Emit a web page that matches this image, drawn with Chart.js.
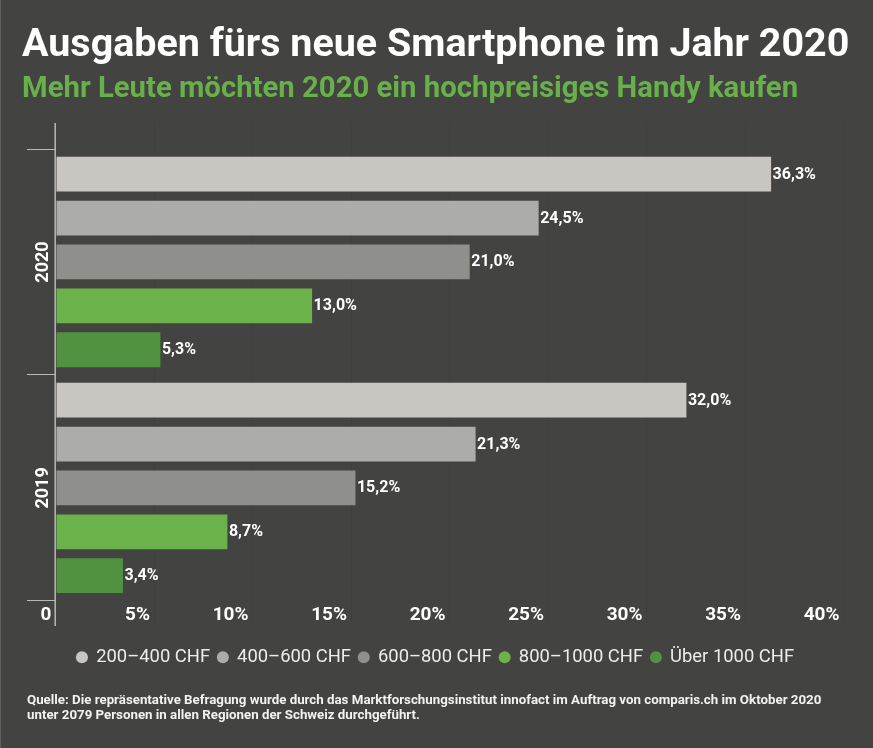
<!DOCTYPE html>
<html lang="de"><head><meta charset="utf-8">
<style>
html,body{margin:0;padding:0;background:#434342;width:873px;height:748px;overflow:hidden;font-family:Roboto,sans-serif}
#wrap{position:relative;width:873px;height:748px;box-shadow:inset 1px 0 0 #5e5e5d}
canvas{position:absolute;left:0;top:0}
.t{position:absolute;white-space:nowrap}
#title{left:22px;top:17px;font-size:39.45px;font-weight:700;color:#fff;line-height:52px}
#sub{left:22px;top:68px;font-size:29.3px;font-weight:700;color:#67b04a;line-height:38px}
#foot{left:27px;top:692px;font-size:13.3px;font-weight:700;color:#f2f2f2;line-height:15px}
</style></head><body>
<div id="wrap">
<canvas id="c" width="873" height="748"></canvas>
<div class="t" id="title">Ausgaben fürs neue Smartphone im Jahr 2020</div>
<div class="t" id="sub">Mehr Leute möchten 2020 ein hochpreisiges Handy kaufen</div>
<div class="t" id="foot">Quelle: Die repräsentative Befragung wurde durch das Marktforschungsinstitut innofact im Auftrag von comparis.ch im Oktober 2020<br>unter 2079 Personen in allen Regionen der Schweiz durchgeführt.</div>
</div>
<script src="https://cdn.jsdelivr.net/npm/chart.js@4"></script>
<script>
const years = ['2020','2019'];
const priceBands = ['200–400 CHF','400–600 CHF','600–800 CHF','800–1000 CHF','Über 1000 CHF'];
const band200 = [36.3,32.0];
const band400 = [24.5,21.3];
const band600 = [21.0,15.2];
const band800 = [13.0,8.7];
const band1000 = [5.3,3.4];
const bandColors = ['#c9c6c1','#acacaa','#8f908b','#6bb24b','#50923f'];
const xTickLabels = ['0','5%','10%','15%','20%','25%','30%','35%','40%'];

const extras = {
  id:'extras',
  afterLayout(chart){
    chart.legend.left += 13.5;
    chart.legend.right += 13.5;
  },
  beforeDatasetsDraw(chart){
    const ctx = chart.ctx, x = chart.scales.x;
    ctx.save();
    x.ticks.forEach((t,i)=>{
      const px = i===0 ? x.left-0.8 : Math.floor(x.getPixelForTick(i)-0.5)+0.5;
      ctx.beginPath();
      ctx.moveTo(px,123); ctx.lineTo(px,626);
      ctx.lineWidth = i===0?1.5:1;
      ctx.strokeStyle = i===0?'#b9b9b6':'#3f3f3e';
      ctx.stroke();
    });
    ctx.restore();
  },
  afterDatasetsDraw(chart){
    const ctx = chart.ctx;
    ctx.save();
    ctx.font = '700 16px Roboto';
    ctx.fillStyle = '#fff';
    ctx.textAlign = 'left';
    ctx.textBaseline = 'middle';
    chart.data.datasets.forEach((ds,d)=>{
      chart.getDatasetMeta(d).data.forEach((el,i)=>{
        ctx.fillText(ds.data[i].toFixed(1).replace('.',',')+'%', el.x+1.5, el.y+0.5);
      });
    });
    ctx.restore();
  }
};

new Chart(document.getElementById('c'),{
  type:'bar',
  plugins:[extras],
  data:{labels:years,datasets:[band200,band400,band600,band800,band1000].map((v,i)=>({
    label:priceBands[i],data:v,backgroundColor:bandColors[i],
    categoryPercentage:0.971,barPercentage:0.793
  }))},
  options:{
    indexAxis:'y',responsive:false,animation:false,
    layout:{padding:{left:0,right:29,top:149,bottom:71.5}},
    scales:{
      x:{min:0,max:40,
        grid:{drawOnChartArea:false,drawTicks:false},
        border:{display:false},
        afterFit(s){s.height=39.4;},
        ticks:{stepSize:5,padding:3,align:'end',labelOffset:-4.5,maxRotation:0,autoSkip:false,
          color:'#fff',font:{family:'Roboto',size:19,weight:'700'},
          callback:(v,i)=>xTickLabels[i]}
      },
      y:{
        grid:{drawOnChartArea:false,drawTicks:true,tickLength:29,color:'#b9b9b6',offset:true},
        border:{display:false},
        afterFit(s){s.width=56;},
        ticks:{minRotation:90,maxRotation:90,crossAlign:'center',padding:-37,
          color:'#fff',font:{family:'Roboto',size:18,weight:'700'}}
      }
    },
    plugins:{
      title:{display:false},
      tooltip:{enabled:false},
      legend:{position:'bottom',align:'center',
        labels:{usePointStyle:true,pointStyle:'circle',boxWidth:10,boxHeight:8.5,padding:7.8,
          color:'#ececec',font:{family:'Roboto',size:18.4}}}
    }
  }
});
</script>
</body></html>
